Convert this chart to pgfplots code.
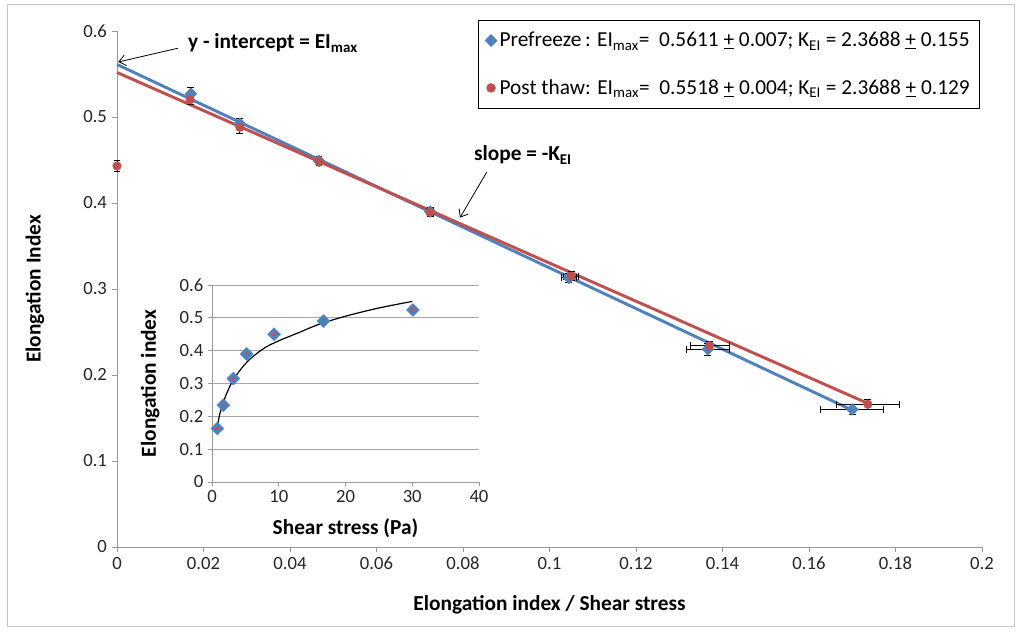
\documentclass[border=0pt]{standalone}
\usepackage{fontspec}
\setmainfont{Carlito}
\usepackage{pgfplots}
\pgfplotsset{compat=1.18}
\usetikzlibrary{arrows.meta}

\definecolor{xlblue}{RGB}{79,129,189}
\definecolor{xlred}{RGB}{192,80,77}

\begin{document}
\begin{tikzpicture}
\useasboundingbox (-87.75pt,-63.75pt) rectangle (678pt,410.25pt);
\draw[gray!45, line width=0.6pt] (-82.5pt,-59.25pt) rectangle (672.75pt,407.25pt);

\begin{axis}[
  at={(0,0)}, anchor=south west,
  scale only axis, width=648.75pt, height=387pt,
  xmin=0, xmax=0.2, ymin=0, ymax=0.6,
  xtick={0,0.02,0.04,0.06,0.08,0.1,0.12,0.14,0.16,0.18,0.2},
  ytick={0,0.1,0.2,0.3,0.4,0.5,0.6},
  scaled ticks=false,
  xticklabel style={/pgf/number format/.cd, fixed, precision=2},
  yticklabel style={/pgf/number format/.cd, fixed, precision=1},
  /pgf/number format/assume math mode=true,
  tick label style={font=\fontsize{14}{16}\selectfont, text=black!85},
  axis x line*=bottom, axis y line*=left,
  axis line style={gray!80, line width=0.6pt},
  tick style={gray!80, line width=0.6pt},
  tick align=outside, major tick length=4pt,
  xlabel={\textbf{Elongation index / Shear stress}},
  ylabel={\textbf{Elongation Index}},
  label style={font=\fontsize{16}{18}\selectfont},
  xlabel style={at={(axis description cs:0.5,0)}, anchor=center, yshift=-43.5pt},
  ylabel style={at={(axis description cs:-0.0948,0.5)}, anchor=center},
  clip=false,
  legend style={at={(axis cs:0.0835,0.613)}, anchor=north west,
    draw=black, line width=0.6pt, font=\fontsize{16}{18}\selectfont,
    row sep=19pt, inner xsep=5pt, inner ysep=7pt},
  legend cell align=left,
  error bars/error bar style={black, line width=0.7pt},
  error bars/error mark options={rotate=90, mark size=2.6pt, line width=0.7pt, black},
]
% trend lines
\addplot[xlblue, line width=2.2pt, forget plot] coordinates {(0,0.5611) (0.170,0.159)};
\addplot[xlred, line width=2.2pt, forget plot] coordinates {(0,0.5518) (0.1736,0.167)};

% prefreeze
\addplot[only marks, mark=square*, mark size=3.1pt,
  mark options={rotate=45, fill=xlblue, draw=xlblue},
  error bars/.cd, x dir=both, x explicit, y dir=both, y explicit]
  coordinates {
  (0.0171,0.527) +- (0,0.007)
  (0.0284,0.492) +- (0,0.006)
  (0.0467,0.449) +- (0,0.005)
  (0.0724,0.390) +- (0.0008,0.005)
  (0.1045,0.313) +- (0.0018,0.005)
  (0.1366,0.230) +- (0.0050,0.007)
  (0.1700,0.160) +- (0.0073,0.006)
};
% post thaw
\addplot[only marks, mark=*, mark size=3.2pt,
  mark options={fill=xlred, draw=xlred},
  error bars/.cd, x dir=both, x explicit, y dir=both, y explicit]
  coordinates {
  (0,0.443)      +- (0,0.006)
  (0.0169,0.520) +- (0,0.005)
  (0.0284,0.488) +- (0,0.007)
  (0.0467,0.448) +- (0,0.004)
  (0.0724,0.389) +- (0,0.005)
  (0.1050,0.315) +- (0.0018,0.005)
  (0.1370,0.234) +- (0.0045,0.005)
  (0.1736,0.166) +- (0.0073,0.006)
};
\legend{Prefreeze\,: EI\textsubscript{max}=\ \ 0.5611 \underline{+} 0.007; K\textsubscript{EI} = 2.3688 \underline{+} 0.155,
        Post thaw: EI\textsubscript{max}=\ \ 0.5518 \underline{+} 0.004; K\textsubscript{EI} = 2.3688 \underline{+} 0.129}

% annotations
\node[anchor=west, font=\bfseries\fontsize{16}{18}\selectfont, inner sep=0pt]
  at (axis cs:0.0164,0.586) {y - intercept = EI\textsubscript{max}};
\draw[-{Straight Barb[length=5pt,width=8pt]}, line width=0.6pt]
  (axis cs:0.0141,0.580) -- (axis cs:0.0003,0.564);
\node[anchor=west, font=\bfseries\fontsize{16}{18}\selectfont, inner sep=0pt]
  at (axis cs:0.0825,0.456) {slope = -K\textsubscript{EI}};
\draw[-{Straight Barb[length=5pt,width=8pt]}, line width=0.6pt]
  (axis cs:0.0855,0.436) -- (axis cs:0.0793,0.383);
\end{axis}

% inset
\begin{axis}[
  at={(71.25pt,48.75pt)}, anchor=south west,
  scale only axis, width=200.25pt, height=147.75pt,
  xmin=0, xmax=40, ymin=0, ymax=0.6,
  xtick={0,10,20,30,40},
  ytick={0,0.1,0.2,0.3,0.4,0.5,0.6},
  yticklabel style={/pgf/number format/.cd, fixed, precision=1},
  /pgf/number format/assume math mode=true,
  tick label style={font=\fontsize{14}{16}\selectfont, text=black!85},
  axis x line*=bottom, axis y line*=left,
  axis line style={gray!80, line width=0.6pt},
  tick style={gray!80, line width=0.6pt},
  tick align=outside, major tick length=3pt,
  ymajorgrids, grid style={gray!70, line width=0.6pt},
  xlabel={\textbf{Shear stress (Pa)}},
  ylabel={\textbf{Elongation index}},
  label style={font=\fontsize{16}{18}\selectfont},
  xlabel style={at={(axis description cs:0.5,0)}, anchor=center, yshift=-34.5pt},
  ylabel style={at={(axis description cs:-0.232,0.5)}, anchor=center},
  clip=false,
]
\addplot[only marks, mark=square*, mark size=3.4pt,
  mark options={rotate=45, fill=xlblue, draw=xlblue}] coordinates {
  (0.8,0.163) (1.7,0.234) (3.2,0.315) (5.2,0.390) (9.3,0.450) (16.7,0.490) (30.1,0.524)
};
\addplot[only marks, mark=+, mark size=1.6pt,
  mark options={draw=xlred, line width=0.8pt}] coordinates {
  (0.8,0.163) (1.7,0.234) (3.2,0.315) (5.2,0.390) (9.3,0.450) (16.7,0.490) (30.1,0.524)
};
\addplot[black, line width=0.9pt, smooth] coordinates {
  (0.9,0.18) (1.2,0.21) (1.6,0.235) (2,0.26) (3,0.305) (4,0.335) (5,0.36)
  (6,0.38) (8,0.41) (10,0.43) (13,0.455) (16,0.48) (20,0.505) (25,0.53) (30,0.55)
};
\end{axis}
\end{tikzpicture}
\end{document}
